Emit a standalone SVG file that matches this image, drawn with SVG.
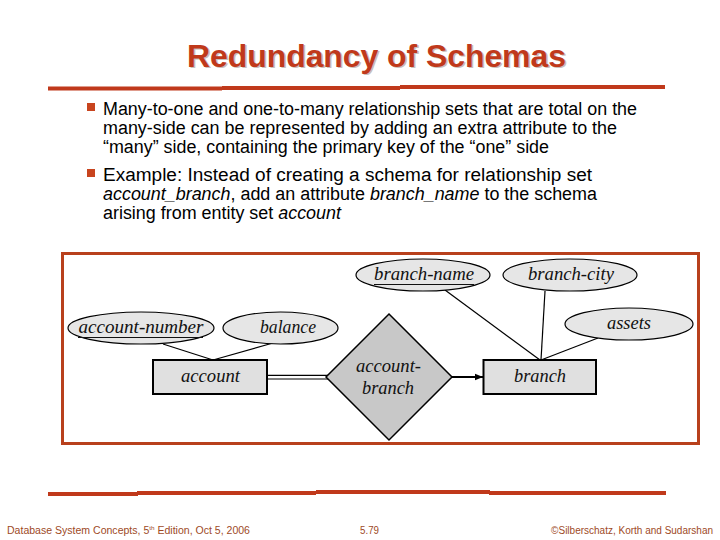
<svg xmlns="http://www.w3.org/2000/svg" width="720" height="540" viewBox="0 0 720 540">
<style>
.title{font-family:"Liberation Sans",Arial,sans-serif;font-weight:bold;font-size:32px;fill:#C0391B}
.body{font-family:"Liberation Sans",Arial,sans-serif;font-size:18px;fill:#000}
.it{font-style:italic}
.foot{font-family:"Liberation Sans",Arial,sans-serif;font-size:10px;fill:#9E4A1F}
.rule{fill:#C0391B}
.bullet{fill:#C8441E}
.er{font-family:"Liberation Serif","Times New Roman",serif;font-style:italic;font-size:18px;fill:#111}
.attr{fill:#E6E6E6;stroke:#000;stroke-width:1.2}
.ent{fill:#E0E0E0;stroke:#000;stroke-width:2}
.rel{fill:#C8C8C8;stroke:#000;stroke-width:1.5}
.edge{stroke:#000;stroke-width:1.2;fill:none}
</style>
<defs>
<marker id="arr" viewBox="0 0 10 10" refX="10" refY="5" markerWidth="8" markerHeight="8" markerUnits="userSpaceOnUse" orient="auto">
<path d="M0,1 L10,5 L0,9 Z" fill="#000"/>
</marker>
</defs>
<rect width="720" height="540" fill="#fff"/>

<g id="title">
<text x="378" y="68" text-anchor="middle" class="title" style="fill:#c9c0bb" textLength="379">Redundancy of Schemas</text>
<text x="376.5" y="66.5" text-anchor="middle" class="title" textLength="379">Redundancy of Schemas</text>
</g>

<g id="rules">
<rect class="rule" x="48" y="86.5" width="174" height="4"/>
<rect class="rule" x="222" y="86" width="178" height="4"/>
<rect class="rule" x="400" y="85" width="265" height="4"/>
<rect class="rule" x="48" y="492" width="90" height="4"/>
<rect class="rule" x="137" y="491" width="179" height="4"/>
<rect class="rule" x="316" y="490" width="174" height="4"/>
<rect class="rule" x="489" y="491" width="177" height="4"/>
</g>

<g id="bullets">
<rect class="bullet" x="87" y="103" width="8" height="8"/>
<rect class="bullet" x="87" y="169" width="8" height="8"/>
<text class="body" x="103" y="115" textLength="534" lengthAdjust="spacingAndGlyphs">Many-to-one and one-to-many relationship sets that are total on the</text>
<text class="body" x="103" y="134" textLength="514" lengthAdjust="spacingAndGlyphs">many-side can be represented by adding an extra attribute to the</text>
<text class="body" x="103" y="153" textLength="446" lengthAdjust="spacingAndGlyphs">“many” side, containing the primary key of the “one” side</text>
<text class="body" x="103" y="181" textLength="489" lengthAdjust="spacingAndGlyphs">Example: Instead of creating a schema for relationship set</text>
<text class="body" x="103" y="200" textLength="494" lengthAdjust="spacingAndGlyphs"><tspan class="it">account_branch</tspan>, add an attribute <tspan class="it">branch_name</tspan> to the schema</text>
<text class="body" x="103" y="219" textLength="238" lengthAdjust="spacingAndGlyphs">arising from entity set <tspan class="it">account</tspan></text>
</g>

<rect id="frame" x="62.5" y="253.5" width="636" height="190" fill="#fff" stroke="#B8401C" stroke-width="3"/>

<g id="connectors">
<line class="edge" x1="163" y1="344" x2="213" y2="360"/>
<line class="edge" x1="273" y1="343" x2="213" y2="360"/>
<line class="edge" x1="445" y1="290" x2="540" y2="360"/>
<line class="edge" x1="545" y1="291" x2="541" y2="360"/>
<line class="edge" x1="598" y1="338" x2="541" y2="360"/>
<line class="edge" x1="267" y1="375.3" x2="328" y2="375.3"/>
<line class="edge" x1="267" y1="379" x2="328" y2="379"/>
<line x1="452" y1="377" x2="483" y2="377" stroke="#000" stroke-width="2" marker-end="url(#arr)"/>
</g>

<g id="account-number">
<ellipse class="attr" cx="141" cy="328" rx="73" ry="16"/>
<text class="er" x="141" y="333" text-anchor="middle" textLength="125" lengthAdjust="spacingAndGlyphs">account-number</text>
<line x1="78" y1="337.5" x2="203" y2="337.5" stroke="#111" stroke-width="1"/>
</g>
<g id="balance">
<ellipse class="attr" cx="280.5" cy="328" rx="57.5" ry="16"/>
<text class="er" x="288" y="333" text-anchor="middle" textLength="56" lengthAdjust="spacingAndGlyphs">balance</text>
</g>
<g id="account">
<rect class="ent" x="153" y="360" width="114" height="34"/>
<text class="er" x="210.5" y="382" text-anchor="middle" textLength="59" lengthAdjust="spacingAndGlyphs">account</text>
</g>
<g id="account-branch">
<polygon class="rel" points="389,314 452,377 389,440 326,377"/>
<text class="er" x="388.5" y="372" text-anchor="middle" textLength="65" lengthAdjust="spacingAndGlyphs">account-</text>
<text class="er" x="388" y="394" text-anchor="middle" textLength="52" lengthAdjust="spacingAndGlyphs">branch</text>
</g>
<g id="branch">
<rect class="ent" x="483.5" y="360" width="112.5" height="34"/>
<text class="er" x="540" y="382" text-anchor="middle" textLength="52" lengthAdjust="spacingAndGlyphs">branch</text>
</g>
<g id="branch-name">
<ellipse class="attr" cx="423" cy="275" rx="67" ry="16"/>
<text class="er" x="424" y="280" text-anchor="middle" textLength="100" lengthAdjust="spacingAndGlyphs">branch-name</text>
<line x1="374" y1="284.5" x2="474" y2="284.5" stroke="#111" stroke-width="1"/>
</g>
<g id="branch-city">
<ellipse class="attr" cx="570" cy="275" rx="67" ry="16"/>
<text class="er" x="571" y="280" text-anchor="middle" textLength="86" lengthAdjust="spacingAndGlyphs">branch-city</text>
</g>
<g id="assets">
<ellipse class="attr" cx="629" cy="324" rx="64" ry="16"/>
<text class="er" x="629" y="329" text-anchor="middle" textLength="44" lengthAdjust="spacingAndGlyphs">assets</text>
</g>

<g id="footer">
<text class="foot" x="7" y="534" textLength="243" lengthAdjust="spacingAndGlyphs">Database System Concepts, 5<tspan font-size="6" dy="-4">th</tspan><tspan dy="4"> Edition, Oct 5, 2006</tspan></text>
<text class="foot" x="360" y="534" textLength="19" lengthAdjust="spacingAndGlyphs">5.79</text>
<text class="foot" x="713" y="534" text-anchor="end">©Silberschatz, Korth and Sudarshan</text>
</g>
</svg>
